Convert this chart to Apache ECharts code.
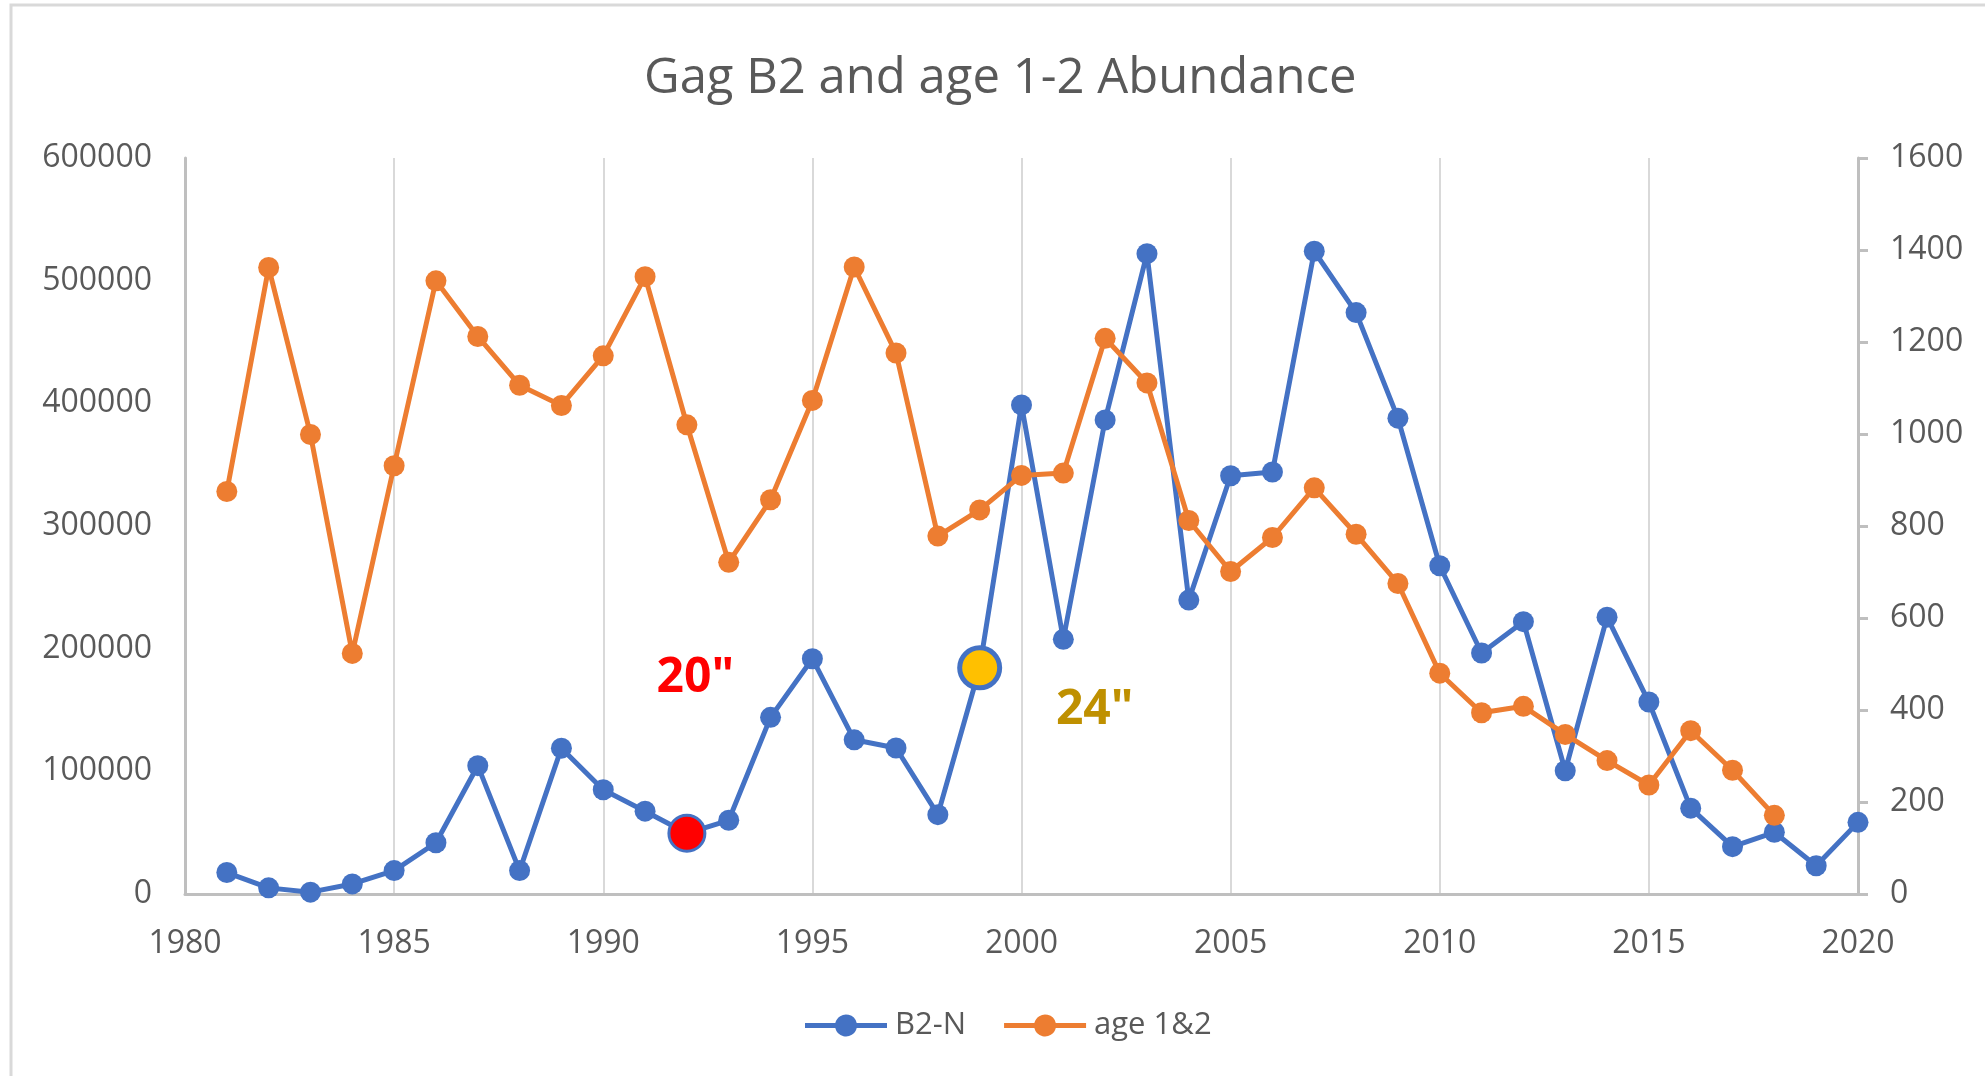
<!DOCTYPE html>
<html>
<head>
<meta charset="utf-8">
<script src="https://cdn.jsdelivr.net/npm/echarts@6/dist/echarts.min.js"></script>
<style>
html,body{margin:0;padding:0;background:#fff;}
#chart{width:1985px;height:1076px;}
</style>
</head>
<body>
<div id="chart"></div>
<script>
const titleText = 'Gag B2 and age 1-2 Abundance';
const seriesNames = ['B2-N', 'age 1&2'];
const years = [1981,1982,1983,1984,1985,1986,1987,1988,1989,1990,
  1991,1992,1993,1994,1995,1996,1997,1998,1999,2000,
  2001,2002,2003,2004,2005,2006,2007,2008,2009,2010,
  2011,2012,2013,2014,2015,2016,2017,2018,2019,2020];
const b2N = [17500,5000,1500,8200,19100,41800,104600,19100,118900,85000,
  67500,49500,60100,144000,191800,125700,119000,64700,184400,398700,
  207600,386500,522000,239600,341000,344000,524000,474000,387900,267600,
  196500,222000,100500,225700,156500,70000,38600,50300,23000,58400];
const ageYears = years.slice(0, 38);
const age12 = [875,1362,999,523,931,1333,1212,1106,1062,1170,
  1342,1020,721,857,1073,1363,1176,778,835,910,
  915,1208,1111,812,701,775,883,782,675,480,
  394,408,347,290,237,355,269,171];
const leftTicks = {min:0, max:600000, interval:100000};
const rightTicks = {min:0, max:1600, interval:200};
const xTicks = {min:1980, max:2020, interval:5};
const highlightYears = [1992, 1999];
const annotations = [
  {text:'20"', year:1992.2, value:176000},
  {text:'24"', year:2001.75, value:150000}
];

const FONT = '"Open Sans", sans-serif';
const GREY = '#595959';
const BLUE = '#4472C4';
const ORANGE = '#ED7D31';
const hlStyles = [
  {color:'#FF0000', borderColor:BLUE, borderWidth:3, size:36},
  {color:'#FFC000', borderColor:BLUE, borderWidth:5, size:40}
];
const annColors = ['#FF0000', '#BF9000'];
const plain = v => String(v);
const legendIcon = 'path://M0,8.5L30.29,8.5A11,11,0,0,1,51.71,8.5L82,8.5L82,13.5L51.71,13.5A11,11,0,0,1,30.29,13.5L0,13.5Z';

const blueData = years.map((y, i) => {
  const h = highlightYears.indexOf(y);
  if (h < 0) return [y, b2N[i]];
  const s = hlStyles[h];
  return {value:[y, b2N[i]], symbolSize:s.size,
    itemStyle:{color:s.color, borderColor:s.borderColor, borderWidth:s.borderWidth}};
});
const orangeData = ageYears.map((y, i) => [y, age12[i]]);

const chart = echarts.init(document.getElementById('chart'), null, {renderer:'canvas'});
chart.setOption({
  animation:false,
  backgroundColor:'#fff',
  textStyle:{fontFamily:FONT},
  graphic:[{type:'rect', shape:{x:11, y:5, width:2100, height:1200},
    style:{fill:'none', stroke:'#d9d9d9', lineWidth:3}, silent:true, z:-10}],
  title:{text:titleText, left:644, top:55, padding:0,
    textStyle:{fontFamily:FONT, fontSize:49, fontWeight:'normal', color:GREY}},
  legend:{bottom:35, left:805, padding:0, itemWidth:82, itemHeight:22, itemGap:38,
    data:seriesNames.map(n => ({name:n, icon:legendIcon})),
    textStyle:{fontFamily:FONT, fontSize:31, color:GREY, padding:[0,0,0,3]}},
  grid:{left:185, right:127, top:158, bottom:182, containLabel:false},
  xAxis:{type:'value', min:xTicks.min, max:xTicks.max, interval:xTicks.interval,
    axisLine:{show:true, onZero:false, lineStyle:{color:'#bfbfbf', width:3}},
    axisTick:{show:false},
    axisLabel:{fontFamily:FONT, fontSize:32, color:GREY, margin:34, formatter:plain},
    splitLine:{show:true, lineStyle:{color:'#d9d9d9', width:2}}},
  yAxis:[
    {type:'value', min:leftTicks.min, max:leftTicks.max, interval:leftTicks.interval,
      axisLine:{show:true, lineStyle:{color:'#bfbfbf', width:3}},
      axisTick:{show:false},
      axisLabel:{fontFamily:FONT, fontSize:32, color:GREY, margin:33, formatter:plain},
      splitLine:{show:false}},
    {type:'value', min:rightTicks.min, max:rightTicks.max, interval:rightTicks.interval,
      position:'right',
      axisLine:{show:true, lineStyle:{color:'#bfbfbf', width:3}},
      axisTick:{show:true, inside:false, length:10, lineStyle:{color:'#bfbfbf', width:3}},
      axisLabel:{fontFamily:FONT, fontSize:32, color:GREY, margin:32, formatter:plain},
      splitLine:{show:false}}
  ],
  series:[
    {name:seriesNames[0], type:'line', yAxisIndex:0, data:blueData,
      symbol:'circle', symbolSize:21, showAllSymbol:true,
      lineStyle:{color:BLUE, width:5}, itemStyle:{color:BLUE},
      z:2,
      markPoint:{symbol:'circle', symbolSize:1, itemStyle:{color:'rgba(0,0,0,0)'},
        data:annotations.map((a, i) => ({coord:[a.year, a.value],
          label:{show:true, formatter:a.text, position:'inside',
            fontFamily:FONT, fontWeight:'bold', fontSize:48, color:annColors[i]}}))}},
    {name:seriesNames[1], type:'line', yAxisIndex:1, data:orangeData,
      symbol:'circle', symbolSize:21, showAllSymbol:true,
      lineStyle:{color:ORANGE, width:5}, itemStyle:{color:ORANGE},
      z:3}
  ]
});
</script>
</body>
</html>
